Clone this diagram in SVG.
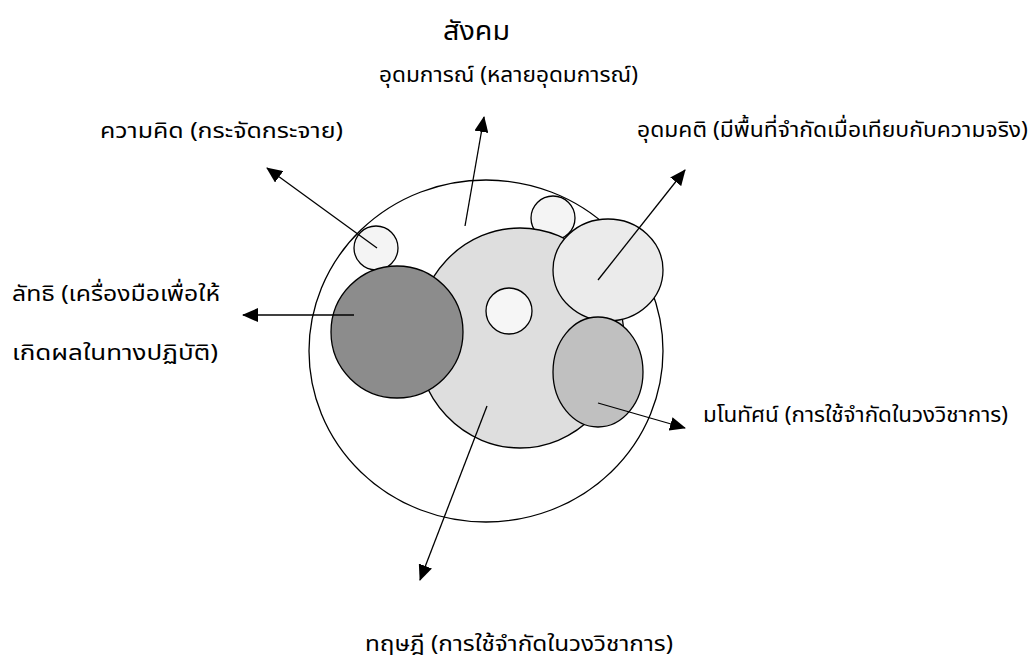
<svg xmlns="http://www.w3.org/2000/svg" width="1036" height="664" viewBox="0 0 1036 664">
<style>
.lbl{font-family:"Noto Sans Thai","Noto Sans","DejaVu Sans",sans-serif;font-size:22px;font-weight:normal;fill:#000}
.ttl{font-family:"Noto Sans Thai","Noto Sans","DejaVu Sans",sans-serif;font-size:27px;font-weight:normal;fill:#000}
.c{stroke:#000;stroke-width:1.3}
.ln{stroke:#000;stroke-width:1.3;fill:none;marker-end:url(#ah)}
</style>
<defs>
<marker id="ah" viewBox="0 0 16 14" refX="15" refY="7" markerWidth="16" markerHeight="14" markerUnits="userSpaceOnUse" orient="auto">
<path d="M0,0 L16,7 L0,14 Z" fill="#000"/>
</marker>
</defs>
<rect width="1036" height="664" fill="#fff"/>
<g id="society">
<ellipse class="c" cx="486" cy="351" rx="177" ry="171" fill="#fff"/>
<text class="ttl" x="443" y="40" textLength="67" lengthAdjust="spacingAndGlyphs">สังคม</text>
</g>
<g id="idea-small-top">
<circle class="c" cx="553" cy="218" r="22" fill="#f4f4f4"/>
</g>
<g id="theory">
<ellipse class="c" cx="520" cy="338" rx="104" ry="110" fill="#dedede"/>
<text class="lbl" x="365" y="651" style="font-size:21px" textLength="308" lengthAdjust="spacingAndGlyphs">ทฤษฎี (การใช้จำกัดในวงวิชาการ)</text>
</g>
<g id="theory-inner">
<circle class="c" cx="509" cy="311" r="23" fill="#f6f6f6"/>
</g>
<g id="idea">
<circle class="c" cx="376" cy="248" r="22" fill="#f4f4f4"/>
<text class="lbl" x="100" y="138" textLength="243" lengthAdjust="spacingAndGlyphs">ความคิด (กระจัดกระจาย)</text>
</g>
<g id="doctrine">
<circle class="c" cx="397" cy="332" r="66" fill="#8c8c8c"/>
<text class="lbl" x="12" y="301" textLength="208" lengthAdjust="spacingAndGlyphs">ลัทธิ (เครื่องมือเพื่อให้</text>
<text class="lbl" x="12" y="360" textLength="206" lengthAdjust="spacingAndGlyphs">เกิดผลในทางปฏิบัติ)</text>
</g>
<g id="ideal">
<ellipse class="c" cx="608" cy="270" rx="55" ry="51" fill="#ebebeb"/>
<text class="lbl" x="637" y="137" textLength="391" lengthAdjust="spacingAndGlyphs">อุดมคติ (มีพื้นที่จำกัดเมื่อเทียบกับความจริง)</text>
</g>
<g id="concept">
<ellipse class="c" cx="598" cy="372" rx="45" ry="55" fill="#c0c0c0"/>
<text class="lbl" x="703" y="422" textLength="305" lengthAdjust="spacingAndGlyphs">มโนทัศน์ (การใช้จำกัดในวงวิชาการ)</text>
</g>
<g id="ideology">
<text class="lbl" x="379" y="82" textLength="259" lengthAdjust="spacingAndGlyphs">อุดมการณ์ (หลายอุดมการณ์)</text>
</g>
<g id="connectors">
<line class="ln" x1="377" y1="248" x2="267" y2="168"/>
<line class="ln" x1="465" y1="226" x2="484" y2="117"/>
<line class="ln" x1="598" y1="280" x2="685" y2="170"/>
<line class="ln" x1="354" y1="315" x2="243" y2="315"/>
<line class="ln" x1="598" y1="403" x2="685" y2="428"/>
<line class="ln" x1="487" y1="406" x2="420" y2="580"/>
</g>
</svg>
